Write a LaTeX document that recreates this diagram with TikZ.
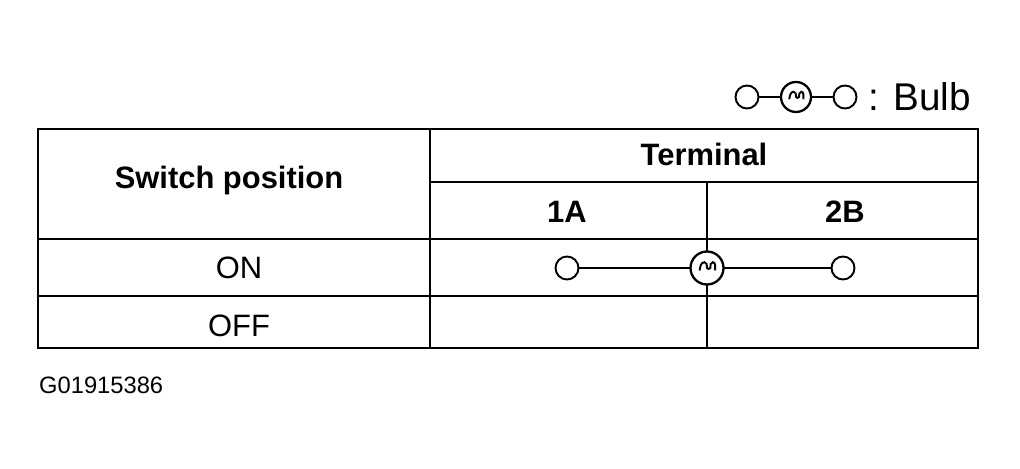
\documentclass[tikz,border=0pt]{standalone}
\usepackage{fontspec}
\setmainfont{Liberation Sans}
\tikzset{
  grid/.style={line width=1.6pt},
  wire/.style={line width=1.3pt},
  term/.style={circle,draw,line width=1.1pt,minimum size=0.46cm,inner sep=0pt},
  lab/.style={font=\fontsize{17.6}{20}\selectfont},
  head/.style={font=\fontsize{17.6}{20}\selectfont\bfseries},
  pics/bulb/.style={code={
    \draw[line width=1.3pt,fill=white] (0,0) circle (#1);
    \draw[line width=1.1pt] (-0.45*#1,-0.15*#1) to[out=80,in=180] (-0.15*#1,0.35*#1)
      to[out=0,in=90] (0,0) to[out=-90,in=-90] (0.2*#1,0) to[out=90,in=180] (0.35*#1,0.35*#1)
      to[out=0,in=100] (0.5*#1,-0.15*#1);
  }}
}
\begin{document}
\begin{tikzpicture}[x=0.02cm,y=-0.02cm]
  \useasboundingbox (0,0) rectangle (1020,469);
  % table lines
  \draw[grid] (38,129) rectangle (978,348);
  \draw[grid] (430,129) -- (430,348);
  \draw[grid] (430,182) -- (978,182);
  \draw[grid] (38,239) -- (978,239);
  \draw[grid] (38,296) -- (978,296);
  \draw[grid] (707,182) -- (707,348);
  % headings
  \node[head] (pos) at (229,181) {Switch position};
  \node[head] (trm) at (704,154) {Terminal};
  \node[head] (ta) at (567,212) {1A};
  \node[head] (tb) at (845,212) {2B};
  \node[lab] (on) at (239,268) {ON};
  \node[lab] (off) at (239,326) {OFF};
  % ON row
  \node[term] (a1) at (567,268) {};
  \node[term] (b1) at (843,268) {};
  \coordinate (bulb) at (707,268);
  \draw[wire] (a1) -- (bulb) -- (b1);
  \pic at (bulb) {bulb=0.33cm};
  % legend
  \node[term] (la) at (747,97) {};
  \node[term] (lb) at (845,97) {};
  \coordinate (lbulb) at (796,97);
  \draw[wire] (la) -- (lb);
  \pic at (lbulb) {bulb=0.3cm};
  \node[anchor=west,font=\fontsize{22}{24}\selectfont] (key) at (862,97) {: Bulb};
  \node[anchor=west,font=\fontsize{13.5}{15}\selectfont] (fig) at (33,385) {G01915386};
\end{tikzpicture}
\end{document}
